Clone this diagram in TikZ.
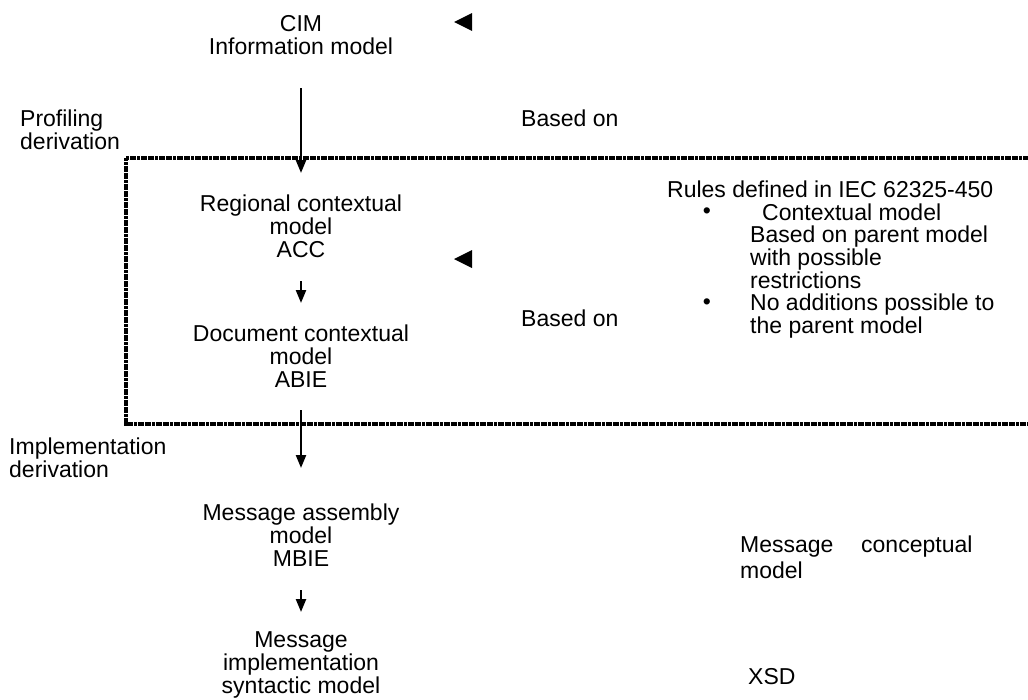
\documentclass[tikz,border=0pt]{standalone}
\usepackage{fontspec}
\setmainfont{Liberation Sans}
\usetikzlibrary{arrows.meta}
\tikzset{
  txt/.style={inner sep=0pt, font=\fontsize{23}{23}\selectfont},
  ctxt/.style={txt, align=center},
  ltxt/.style={txt, align=left, anchor=west},
  flow/.style={line width=2.3pt, -{Triangle[width=10pt,length=13pt]}},
  frameline/.style={line width=4.5pt, black, dash pattern=on 3pt off 0.6pt},
  tip/.style={fill=black}
}
\begin{document}
\begin{tikzpicture}[x=1pt,y=-1pt]
\useasboundingbox (0,0) rectangle (1028,699);
% frame
\draw[frameline] (1040,158) -- (126,158) -- (126,424) -- (1040,424);
% central column
\node[ctxt] (cim) at (301,35) {CIM\\Information model};
\node[ctxt] (acc) at (301,226) {Regional contextual\\model\\ACC};
\node[ctxt] (abie) at (301,356) {Document contextual\\model\\ABIE};
\node[ctxt] (mbie) at (301,535) {Message assembly\\model\\MBIE};
\node[ctxt] (impl) at (301,665) {Message\\implementation\\syntactic model};
% side labels
\node[ltxt] (prof) at (20,130) {Profiling\\derivation};
\node[ltxt] (implder) at (9,458) {Implementation\\derivation};
\node[ltxt] (based1) at (521,118) {Based on};
\node[ltxt] (based2) at (521,318) {Based on};
% rules
\node[ltxt] (rules) at (667,189) {Rules defined in IEC 62325-450};
\node[txt] (b1) at (707,213) {•};
\node[ltxt] (r1) at (762,212) {Contextual model};
\node[ltxt] (r2) at (750,257) {Based on parent model\\with possible\\restrictions};
\node[txt] (b2) at (707,304) {•};
\node[ltxt] (r3) at (750,316) {No additions possible to\\the parent model};
% message conceptual model
\node[ltxt] (mc1) at (740,547) {Message};
\node[ltxt] (mc2) at (861,547) {conceptual};
\node[ltxt] (mc3) at (740,570) {model};
\node[ltxt] (xsd) at (748,677) {XSD};
% arrows
\coordinate (a1s) at (301,88);  \coordinate (a1e) at (301,173);
\coordinate (a2s) at (301,281); \coordinate (a2e) at (301,303);
\coordinate (a3s) at (301,410); \coordinate (a3e) at (301,468);
\coordinate (a4s) at (301,590); \coordinate (a4e) at (301,612);
\draw[flow] (a1s) -- (a1e);
\draw[flow] (a2s) -- (a2e);
\draw[flow] (a3s) -- (a3e);
\draw[flow] (a4s) -- (a4e);
% based-on tips
\fill[tip] (454,22) -- (472,13) -- (472,31) -- cycle;
\fill[tip] (454,259) -- (472,250) -- (472,268) -- cycle;
\end{tikzpicture}
\end{document}
